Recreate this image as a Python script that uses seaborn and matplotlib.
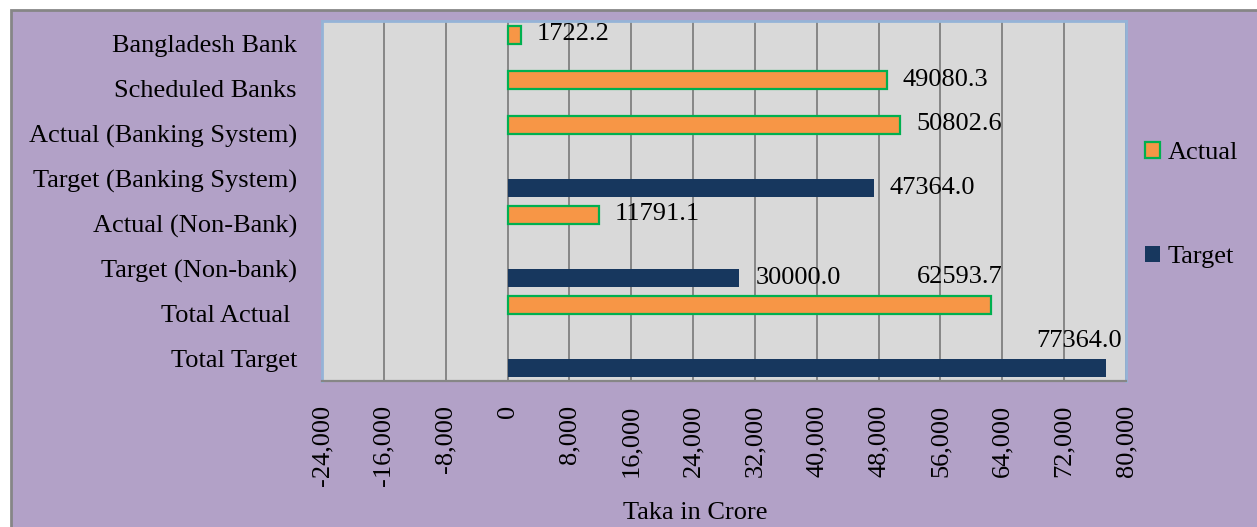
import matplotlib
matplotlib.use("Agg")
import matplotlib.pyplot as plt
from matplotlib.patches import Rectangle, Patch
from matplotlib.ticker import FuncFormatter
import seaborn as sns
import pandas as pd

# ---- data ----
categories = ["Bangladesh Bank", "Scheduled Banks", "Actual (Banking System)",
              "Target (Banking System)", "Actual (Non-Bank)", "Target (Non-bank)",
              "Total Actual ", "Total Target"]
series = ["Actual", "Actual", "Actual", "Target", "Actual", "Target", "Actual", "Target"]
values = [1722.2, 49080.3, 50802.6, 47364.0, 11791.1, 30000.0, 62593.7, 77364.0]
x_ticks = list(range(-24000, 80001, 8000))
hue_levels = ["Actual", "Target"]

df = pd.DataFrame({"category": categories, "series": series, "value": values})

# ---- style ----
sns.set_style("white")
plt.rcParams["font.family"] = ["Liberation Serif", "DejaVu Serif"]
for k in ["text.color", "xtick.color", "ytick.color", "axes.labelcolor"]:
    plt.rcParams[k] = "black"
FS = 19
ORANGE = "#f79646"
GREEN = "#00b050"
NAVY = "#17375e"
LAV = "#b2a1c7"
PLOT_BG = "#d9d9d9"
GRID = "#868686"
BLUE_EDGE = "#95b3d7"

fig = plt.figure(figsize=(12.57, 5.27), dpi=100, facecolor="white")
W, H = 1257, 527
# lavender chart-area background with grey border (top/left visible)
bg = Rectangle((11 / W, -0.02), 1.1, 1 - 10 / H + 0.02,
               transform=fig.transFigure, facecolor=LAV,
               edgecolor=GRID, linewidth=2, zorder=-10)
fig.patches.append(bg)

ax = fig.add_axes([322 / W, 1 - 381 / H, 804 / W, 360 / H])
ax.set_facecolor(PLOT_BG)

sns.barplot(data=df, y="category", x="value", hue="series", order=categories,
            hue_order=hue_levels, palette={"Actual": ORANGE, "Target": NAVY},
            saturation=1, orient="h", dodge=True, width=0.8, legend=False,
            ax=ax, zorder=3)

# edges: green outline for Actual, none for Target
for p in ax.patches:
    fc = matplotlib.colors.to_hex(p.get_facecolor())
    if fc.lower() == ORANGE:
        p.set_edgecolor(GREEN)
        p.set_linewidth(1.6)
    else:
        p.set_edgecolor(NAVY)
        p.set_linewidth(0)

ax.set_xlim(-24000, 80000)
ax.set_xticks(x_ticks)
ax.xaxis.set_major_formatter(FuncFormatter(lambda v, _: f"{v:,.0f}"))
ax.tick_params(axis="x", length=0, pad=17, labelsize=FS, labelrotation=90,
               labelcolor="black")
ax.tick_params(axis="y", length=0, pad=18, labelsize=FS, labelcolor="black")
for lab in ax.get_xticklabels():
    lab.set_verticalalignment("top")
ax.set_ylabel("")
ax.set_xlabel("Taka in Crore", fontsize=FS, va="center", color="black")
ax.xaxis.set_label_coords((695 - 322) / 804, (381 - 513) / 360)

ax.grid(axis="x", color=GRID, linewidth=1.4, zorder=1)
ax.grid(axis="y", visible=False)
ax.set_axisbelow(True)
for s in ["left", "top", "right"]:
    ax.spines[s].set_color(BLUE_EDGE)
    ax.spines[s].set_linewidth(2)
ax.spines["bottom"].set_color(GRID)
ax.spines["bottom"].set_linewidth(1.6)

# data labels
special = {62593.7: ("right", 8, 20), 77364.0: ("right", 12, 19)}
val_set = set(values)
for p in ax.patches:
    w = p.get_width()
    if w == 0 or pd.isna(w):
        continue
    v = min(val_set, key=lambda t: abs(t - w))
    yc = p.get_y() + p.get_height() / 2
    ha, dx, dy = special.get(v, ("left", 11.5, 0))
    ax.annotate(f"{v:.1f}", xy=(w, yc), xytext=(dx, dy), textcoords="offset points",
                ha=ha, va="center", fontsize=FS, color="black", zorder=5)

# legend
handles = [Patch(facecolor=ORANGE, edgecolor=GREEN, linewidth=1.6, label="Actual"),
           Patch(facecolor=NAVY, edgecolor=NAVY, linewidth=0, label="Target")]
fig.legend(handles=handles, loc="center left",
           bbox_to_anchor=(1145 / W, 1 - 205 / H), frameon=False, fontsize=FS,
           handlelength=0.55, handleheight=0.55, handletextpad=0.3,
           labelspacing=3.1, borderpad=0, borderaxespad=0, labelcolor="black")

fig.savefig("out.png", dpi=100, facecolor=fig.get_facecolor())
